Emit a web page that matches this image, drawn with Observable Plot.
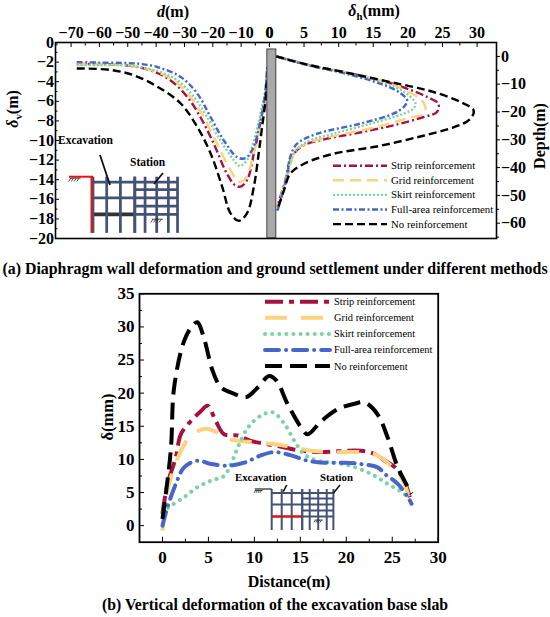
<!DOCTYPE html>
<html><head><meta charset="utf-8">
<script src="https://cdn.jsdelivr.net/npm/d3@7"></script>
<script src="https://cdn.jsdelivr.net/npm/@observablehq/plot@0.6"></script>
<style>
body{margin:0;background:#fff;}
#wrap{position:relative;width:550px;height:617px;font-family:"Liberation Serif","Times New Roman",serif;overflow:hidden;}
#wrap svg{position:absolute;left:0;overflow:visible;}
#wrap svg text{font-family:"Liberation Serif","Times New Roman",serif;}
</style></head><body><div id="wrap"></div>
<script>
// ---------- DATA ----------
const seriesKeys = ["strip","grid","skirt","full","none"];
const seriesNames = ["Strip reinforcement","Grid reinforcement","Skirt reinforcement","Full-area reinforcement","No reinforcement"];

// (a) left: ground settlement  [d (m), δv]
const settleStrip = [[-68,-2.2],[-60,-2.2],[-50,-2.35],[-42,-2.85],[-35,-3.85],[-29,-5.55],[-24.4,-7.6],[-19.7,-10.3],[-15,-13.4],[-12,-14.6],[-10.2,-14.7],[-7.9,-14.05],[-5.5,-11.3],[-3.2,-8.2],[-1.4,-5.5],[-0.8,-3]];
const settleGrid  = [[-68,-2.2],[-60,-2.2],[-50,-2.3],[-43,-2.7],[-33.8,-3.85],[-27.9,-5.55],[-23.2,-7.6],[-18.5,-10.3],[-13.8,-13.0],[-10.8,-14.2],[-8.5,-13.9],[-5.8,-11.6],[-3.5,-8.6],[-1.4,-5.6],[-0.8,-3.2]];
const settleSkirt = [[-68,-2.3],[-60,-2.3],[-50,-2.35],[-39.6,-2.9],[-32.6,-3.85],[-26.7,-5.55],[-22,-7.6],[-17.3,-10],[-12.6,-12.0],[-10.5,-12.6],[-7.9,-12.0],[-5.5,-10],[-3.2,-7.3],[-1.4,-4.8],[-0.8,-2.5]];
const settleFull  = [[-68,-2.0],[-60,-2.05],[-50,-2.1],[-45,-2.2],[-39.6,-2.5],[-31.4,-3.5],[-25.5,-5.2],[-20.8,-7.6],[-16.1,-10],[-11.4,-11.7],[-8.5,-11.8],[-5.8,-10.8],[-3.5,-8.4],[-1.7,-5.6],[-0.8,-2.5]];
const settleNone  = [[-68,-2.65],[-56,-2.8],[-47.9,-3.34],[-39.6,-4.5],[-31.4,-6.2],[-25.5,-8.6],[-20.8,-11.3],[-16.7,-14.7],[-13.8,-17.4],[-10.8,-18.2],[-7.9,-17.4],[-5.5,-14.7],[-3.8,-11.3],[-2.6,-8.6],[-1.4,-5.9],[-1,-4]];

// (a) right: wall deflection [δh (mm), depth (m)]
const deflStrip = [[1,0],[5.9,-3.2],[10.7,-5.6],[17,-9.2],[20.3,-12],[22.8,-14.6],[24.4,-17],[24.2,-20],[22.3,-21.8],[17.9,-24.8],[12.2,-27.8],[8.3,-29.6],[4.5,-32.6],[3.0,-37.4],[2.3,-44.6],[1.1,-54.2]];
const deflGrid  = [[1,0],[5.9,-3.2],[10.7,-5.6],[17,-9.3],[20,-12.8],[21.8,-15.2],[22.5,-18],[22.3,-20.6],[20.3,-22],[15.5,-25.4],[9.8,-28.4],[5.9,-30.8],[3.75,-33.8],[3.0,-39.8],[2.1,-47],[1.1,-54.2]];
const deflSkirt = [[1,0],[5.9,-3.3],[10.7,-5.8],[16.5,-9.6],[19.6,-13],[21.1,-17],[20.8,-18.8],[19.4,-20.6],[14.6,-24.2],[9.3,-27.8],[5.4,-30.8],[3.5,-35],[2.55,-42.2],[1.6,-51.8],[1.1,-55.4]];
const deflFull  = [[1,0],[5.9,-3.4],[10.7,-6.0],[16,-9.8],[18.8,-13],[19.9,-15.8],[19.4,-18.2],[17.9,-20.6],[13.1,-24.2],[6.9,-27.8],[4.0,-31.4],[3.0,-36.2],[2.55,-43.4],[1.6,-51.8],[1.1,-56]];
const deflNone  = [[1,0],[5.9,-3.2],[10.7,-5.6],[17,-9.0],[20.8,-11.0],[23.7,-12.8],[27.6,-16.4],[29.5,-19.4],[29.0,-22.5],[26.6,-25.5],[21.8,-28.8],[15.5,-32.4],[9.3,-35],[5.0,-38.6],[3.0,-42.2],[2.1,-48.2],[1.1,-55.4]];
const wallExtent = [{x1:-0.3, x2:1.0, y1:2.5, y2:-65.5}];

// (b) base slab deformation [distance (m), δ (mm)]
const slabStrip = [[0,1.8],[0.55,6.3],[1.45,10.3],[2.0,13.8],[3.1,15.8],[4.2,17.3],[4.9,18.1],[5.8,15.8],[6.7,13.8],[8.2,13.6],[9.6,12.8],[11.45,12.3],[13.3,11.8],[15.1,11.3],[17.3,11.1],[19.8,11.3],[21.6,11.3],[23.1,10.8],[24.2,9.8],[25.3,8.8],[26.3,6.8],[26.9,4.3]];
const slabGrid  = [[0,-0.75],[0.55,5.3],[1.27,8.8],[2.2,11.8],[3.1,13.6],[4.5,14.6],[5.6,14.3],[6.7,13.3],[8.2,12.8],[10,12.6],[12.2,12.3],[14.35,11.8],[16.2,11.3],[18.7,11.1],[21.6,11.1],[23.1,10.8],[24.5,9.5],[26,7.3],[27.1,2.8]];
const slabSkirt = [[0,2.0],[0.9,3.0],[2.36,4.3],[3.8,5.8],[5.3,6.8],[6.7,7.5],[7.45,9.3],[8.2,11.8],[9.3,14.8],[10.7,16.6],[12.0,17.1],[13.3,15.3],[14.35,12.8],[15.4,10.8],[16.9,9.8],[18.7,9.5],[20.5,9.0],[22.7,7.8],[24.5,6.3],[26.3,4.8],[26.9,3.8]];
const slabFull  = [[0,0],[0.55,2.8],[1.45,6.3],[2.36,8.8],[3.8,9.8],[5.3,9.3],[7.1,9.05],[8.9,9.5],[10.7,10.6],[12.2,11.1],[14.0,10.6],[15.8,9.8],[17.6,9.5],[19.8,9.5],[21.6,9.3],[23.4,8.8],[24.2,7.8],[25.6,6.3],[26.7,4.3],[27.1,3.3]];
const slabNone  = [[0,1.0],[0.9,11.3],[1.27,20.9],[2.36,27.9],[3.27,30.2],[3.8,30.7],[4.5,28.4],[5.45,23.4],[6.36,20.9],[7.8,19.9],[9.1,19.4],[10.4,20.9],[11.6,22.6],[12.4,21.9],[13.6,18.4],[15.1,14.8],[15.8,13.8],[17.3,15.8],[19.1,17.6],[20.9,18.4],[22.0,18.6],[23.4,16.8],[24.5,13.3],[25.6,8.8],[26.7,5.8],[27.1,4.8]];

// tick values
const dTicks = [-70,-60,-50,-40,-30,-20,-10,0];
const dMinor = [-75,-65,-55,-45,-35,-25,-15,-5];
const vTicks = [0,-2,-4,-6,-8,-10,-12,-14,-16,-18,-20];
const vMinor = [-1,-3,-5,-7,-9,-11,-13,-15,-17,-19];
const hTicks = [0,5,10,15,20,25,30];
const hMinor = [2.5,7.5,12.5,17.5,22.5,27.5];
const depthTicks = [0,-10,-20,-30,-40,-50,-60];
const depthMinor = [-5,-15,-25,-35,-45,-55,-65];
const distTicks = [0,5,10,15,20,25,30];
const distMinor = [2.5,7.5,12.5,17.5,22.5,27.5];
const deltaTicks = [0,5,10,15,20,25,30,35];
const deltaMinor = [2.5,7.5,12.5,17.5,22.5,27.5,32.5];

// ---------- STYLE ----------
const colors = {strip:"#a8123e", grid:"#fdd27e", skirt:"#7dd3a3", full:"#4667c9", none:"#000000"};
const dashTop = {strip:"8,3,2,3", grid:"11,6", skirt:"2,2", full:"6,2.5,2,2.5", none:"8,4"};
const dashBot = {strip:"18,6,5,6", grid:"22,14", skirt:"0.1,7", full:"14,7,0.1,7", none:"17,8"};
const capBot = {strip:"butt", grid:"butt", skirt:"round", full:"round", none:"butt"};
const FONT = '"Liberation Serif","Times New Roman",serif';

const settle = {strip:settleStrip, grid:settleGrid, skirt:settleSkirt, full:settleFull, none:settleNone};
const defl = {strip:deflStrip, grid:deflGrid, skirt:deflSkirt, full:deflFull, none:deflNone};
const slab = {strip:slabStrip, grid:slabGrid, skirt:slabSkirt, full:slabFull, none:slabNone};

const wrap = document.getElementById("wrap");
const baseStyle = {fontFamily: FONT, fontWeight:"bold", background:"transparent", overflow:"visible", color:"#000"};
const tf = size => ({fontSize:size, fontWeight:"bold", fontFamily:FONT});

function lines(src, dash, width, caps) {
  return seriesKeys.map(k => Plot.line(src[k], {
    x: d => d[0], y: d => d[1], curve: "catmull-rom",
    stroke: colors[k], strokeWidth: width, strokeDasharray: dash[k],
    strokeLinecap: caps ? caps[k] : "butt"
  }));
}

// ---------- (a) left: settlement ----------
const TOP = {width:550, height:250, marginLeft:55, marginRight:54, marginTop:42, marginBottom:12};
const pA1 = Plot.plot({
  ...TOP,
  style: {...baseStyle, fontSize:"16px"},
  x: {domain:[-75.5, 80.1]},
  y: {domain:[-20, 0]},
  marks: [
    ...lines(settle, dashTop, 2.4),
    Plot.axisX({anchor:"top", ticks:dTicks, tickSize:-4, tickPadding:8.5, label:null, ...tf(16)}),
    Plot.axisX({anchor:"top", ticks:dMinor, tickSize:-2.5, fill:"none", label:null}),
    Plot.axisY({anchor:"left", ticks:vTicks, tickSize:-4, tickPadding:5.5, label:null, ...tf(16)}),
    Plot.axisY({anchor:"left", ticks:vMinor, tickSize:-2.5, fill:"none", label:null})
  ]
});
pA1.style.top = "0px";
wrap.appendChild(pA1);

// ---------- (a) right: wall deflection ----------
const pA2 = Plot.plot({
  ...TOP,
  style: {...baseStyle, fontSize:"16px"},
  x: {domain:[-30.9, 32.8]},
  y: {domain:[-65.5, 5.0]},
  marks: [
    ...lines(defl, dashTop, 2.4),
    Plot.rect(wallExtent, {x1:"x1", x2:"x2", y1:"y1", y2:"y2", fill:"#a9a9a9", stroke:"#222", strokeWidth:0.8}),
    Plot.frame({stroke:"#000", strokeWidth:1.6}),
    Plot.axisX({anchor:"top", ticks:hTicks, tickSize:-4, tickPadding:8.5, label:null, ...tf(16)}),
    Plot.axisX({anchor:"top", ticks:hMinor, tickSize:-2.5, fill:"none", label:null}),
    Plot.axisY({anchor:"right", ticks:depthTicks, tickSize:3, tickPadding:1.5, label:null, ...tf(16)}),
    Plot.axisY({anchor:"right", ticks:depthMinor, tickSize:2, fill:"none", label:null})
  ]
});
pA2.style.top = "0px";
wrap.appendChild(pA2);

// ---------- (b) base slab ----------
const pB = Plot.plot({
  width:550, height:320, marginLeft:139, marginRight:112.3, marginTop:15.3, marginBottom:56.3,
  style: {...baseStyle, fontSize:"17px"},
  x: {domain:[-2.5, 30]},
  y: {domain:[-2.5, 35]},
  marks: [
    ...lines(slab, dashBot, 4, capBot),
    Plot.frame({stroke:"#000", strokeWidth:1.8}),
    Plot.axisX({anchor:"bottom", ticks:distTicks, tickSize:-5, tickPadding:14, label:null, ...tf(17)}),
    Plot.axisX({anchor:"bottom", ticks:distMinor, tickSize:-3, fill:"none", label:null}),
    Plot.axisY({anchor:"left", ticks:deltaTicks, tickSize:-5, tickPadding:10, label:null, ...tf(17)}),
    Plot.axisY({anchor:"left", ticks:deltaMinor, tickSize:-3, fill:"none", label:null})
  ]
});
pB.style.top = "278px";
wrap.appendChild(pB);

// ---------- annotations ----------
const ann = d3.select(wrap).append("svg").attr("width",550).attr("height",617).style("top","0px")
  .attr("font-family", FONT);

function label(x, y, parts, size, rotate=0, anchor="middle") {
  const t = ann.append("text").attr("transform", `translate(${x},${y}) rotate(${rotate})`)
    .attr("text-anchor", anchor).attr("font-size", size).attr("font-weight","bold");
  parts.forEach(p => {
    const s = t.append("tspan").text(p.t);
    if (p.i) s.attr("font-style","italic");
    if (p.sub) s.attr("font-size", size*0.68).attr("dy", size*0.25);
    if (p.up) s.attr("dy", -size*0.25);
  });
  return t;
}
label(173, 17, [{t:"d",i:1},{t:"(m)"}], 16);
label(374, 16, [{t:"δ",i:1},{t:"h",sub:1},{t:"(mm)",up:1}], 16);
label(18, 109, [{t:"δ",i:1},{t:"v",sub:1},{t:"(m)",up:1}], 16, -90);
label(545, 136, [{t:"Depth(m)"}], 16, -90);
label(289, 587, [{t:"Distance(m)"}], 16);
label(113, 417, [{t:"δ(mm)"}], 16.5, -90);
label(275, 274, [{t:"(a) Diaphragm wall deformation and ground settlement under different methods"}], 15.9);
label(275, 610, [{t:"(b) Vertical deformation of the excavation base slab"}], 15.8);

// legends
function legend(x1, x2, y0, step, size, dash, width, caps) {
  seriesKeys.forEach((k, i) => {
    const y = y0 + i*step;
    ann.append("line").attr("x1",x1).attr("x2",x2).attr("y1",y).attr("y2",y)
      .attr("stroke", colors[k]).attr("stroke-width", width).attr("stroke-dasharray", dash[k])
      .attr("stroke-linecap", caps ? caps[k] : "butt");
    ann.append("text").attr("x", x2+4).attr("y", y+size*0.33).attr("font-size", size).text(seriesNames[i]);
  });
}
legend(333, 387, 165.7, 14.6, 10.8, dashTop, 2.4);
legend(265, 330, 301.7, 16.1, 10.4, dashBot, 4, capBot);

// schematic of excavation + station
function hatch(x, y, s) {
  const g = ann.append("g").attr("stroke","#222").attr("stroke-width",0.8);
  g.append("line").attr("x1",x-5*s).attr("x2",x+5*s).attr("y1",y).attr("y2",y);
  for (let j=0;j<4;j++) g.append("line").attr("x1",x-4*s+j*2.5*s).attr("x2",x-6*s+j*2.5*s).attr("y1",y).attr("y2",y+3*s);
}
function schematic(x0, y0, s, topStyle) {
  const navy = "#435275";
  const colsE = [0,10,20,30.5], colsS = [30.5,38,46.5,55,61.7];
  const beamsE = [4,15.5,27.5], beamsS = [4,9.5,15.5,21.5,27.5];
  const H = 41, sw = 2.0*s;
  const g = ann.append("g").attr("stroke", navy).attr("stroke-width", sw);
  beamsE.forEach((b,i) => g.append("line").attr("x1",x0).attr("x2",x0+30.5*s).attr("y1",y0+b*s).attr("y2",y0+b*s)
     .attr("stroke", i===2 ? (topStyle ? "#333" : "#ee1111") : navy).attr("stroke-width", i===2 ? sw*1.3 : sw));
  beamsS.forEach(b => g.append("line").attr("x1",x0+30.5*s).attr("x2",x0+61.7*s).attr("y1",y0+b*s).attr("y2",y0+b*s));
  [...colsE, ...colsS].forEach(c => g.append("line").attr("x1",x0+c*s).attr("x2",x0+c*s).attr("y1",y0).attr("y2",y0+H*s));
  if (topStyle) {
    ann.append("line").attr("x1",x0-24).attr("x2",x0).attr("y1",y0).attr("y2",y0).attr("stroke","#ee1111").attr("stroke-width",2);
    ann.append("line").attr("x1",x0-1.5).attr("x2",x0-1.5).attr("y1",y0).attr("y2",y0+H*s).attr("stroke","#ee1111").attr("stroke-width",2);
  } else {
    ann.append("line").attr("x1",x0-17*s).attr("x2",x0).attr("y1",y0).attr("y2",y0).attr("stroke","#222").attr("stroke-width",1.2);
  }
  hatch(x0-13*s, y0+1.5, s*0.8);
  hatch(x0+47*s, y0+31*s, s*0.8);
}
schematic(93, 176.7, 1.37, true);
ann.append("text").attr("x",58).attr("y",144).attr("font-size",11.5).attr("font-weight","bold").text("Excavation");
ann.append("text").attr("x",130).attr("y",165.5).attr("font-size",11.5).attr("font-weight","bold").text("Station");
ann.append("line").attr("x1",100).attr("y1",155).attr("x2",110).attr("y2",185).attr("stroke","#111").attr("stroke-width",1.8);
ann.append("line").attr("x1",163).attr("y1",173).attr("x2",154).attr("y2",184).attr("stroke","#111").attr("stroke-width",1.8);

schematic(271.7, 489, 1, false);
ann.append("text").attr("x",235).attr("y",481).attr("font-size",10.8).attr("font-weight","bold").text("Excavation");
ann.append("text").attr("x",320).attr("y",481).attr("font-size",10.8).attr("font-weight","bold").text("Station");
ann.append("line").attr("x1",286.7).attr("y1",485).attr("x2",283.3).attr("y2",491.7).attr("stroke","#111").attr("stroke-width",1.6);
ann.append("line").attr("x1",340).attr("y1",485).attr("x2",333.3).attr("y2",493.3).attr("stroke","#111").attr("stroke-width",1.6);
</script></body></html>
